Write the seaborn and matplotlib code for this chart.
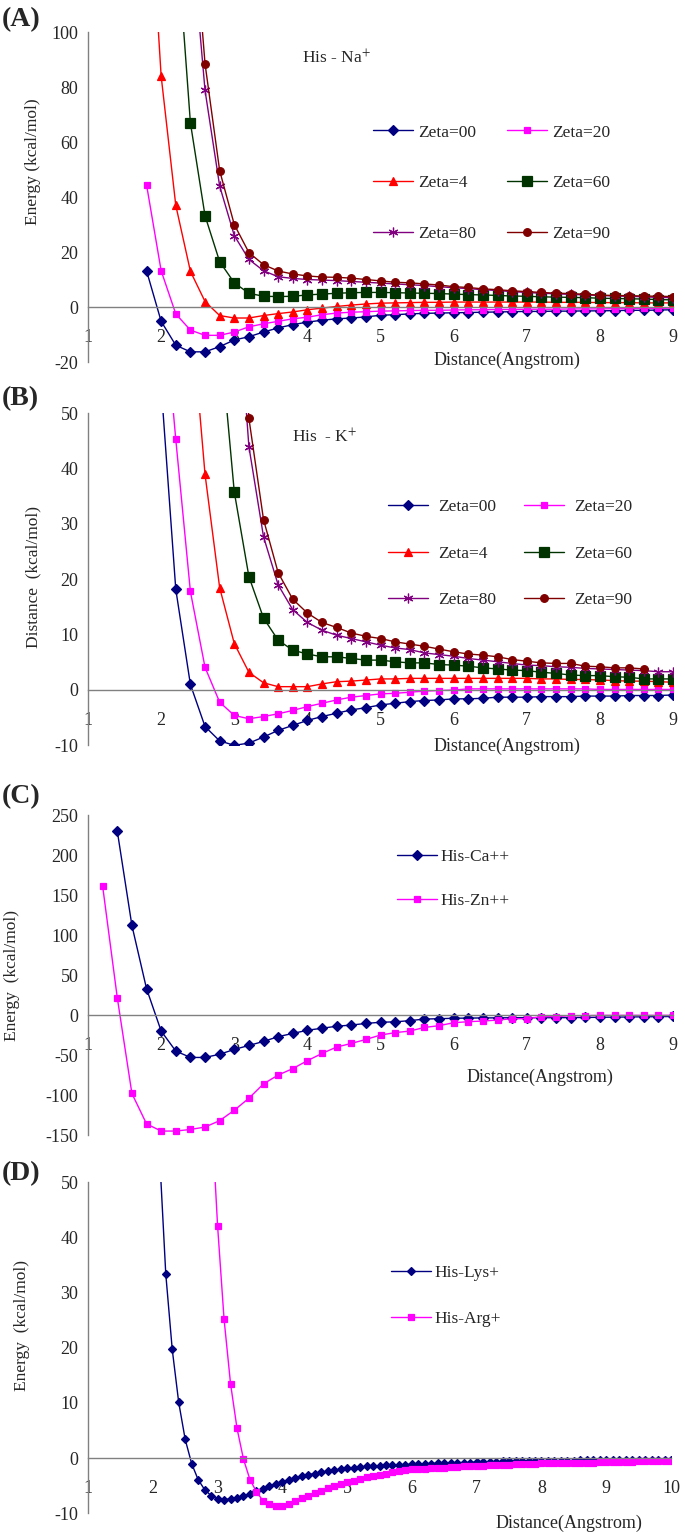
import numpy as np
import pandas as pd
import seaborn as sns

import matplotlib
matplotlib.use('Agg')
import matplotlib.pyplot as plt

sns.set_style("white")
plt.rcParams['font.family'] = ['Liberation Serif', 'DejaVu Serif']
plt.rcParams['mathtext.fontset'] = 'stix'
plt.rcParams['axes.unicode_minus'] = False

#----------DATA----------

# panels A and B share the distance grid (step 0.2)
dist_ab = [1.8, 2.0, 2.2, 2.4, 2.6, 2.8, 3.0, 3.2, 3.4, 3.6, 3.8, 4.0, 4.2, 4.4,
           4.6, 4.8, 5.0, 5.2, 5.4, 5.6, 5.8, 6.0, 6.2, 6.4, 6.6, 6.8, 7.0, 7.2,
           7.4, 7.6, 7.8, 8.0, 8.2, 8.4, 8.6, 8.8, 9.0]

nan = np.nan

# (A) His - Na+
na_z00 = [13.2, -5.2, -13.9, -16.3, -16.3, -14.4, -12.0, -10.8, -9.1, -7.6, -6.4, -5.5, -4.8, -4.3,
          -4.0, -3.6, -3.0, -2.8, -2.5, -2.3, -2.2, -2.1, -2.0, -1.9, -1.8, -1.7, -1.6, -1.6,
          -1.5, -1.5, -1.4, -1.4, -1.3, -1.2, -1.2, -1.1, -1.0]
na_z20 = [44.5, 13.2, -2.5, -8.4, -10.3, -10.3, -9.1, -7.2, -6.1, -5.2, -4.3, -3.7, -2.8, -2.2,
          -1.9, -1.7, -1.5, -1.4, -1.3, -1.2, -1.2, -1.1, -1.0, -1.0, -0.9, -0.9, -0.8, -0.8,
          -0.8, -0.7, -0.7, -0.7, -0.6, -0.6, -0.5, -0.5, -0.4]
na_z4 = [170, 84, 37, 13, 2.0, -3.1, -4.0, -4.0, -3.1, -2.4, -1.8, -1.0, -0.4, 0.2,
         0.7, 1.1, 1.4, 1.5, 1.6, 1.7, 1.7, 1.8, 1.8, 1.8, 1.8, 1.8, 1.8, 1.8,
         1.7, 1.7, 1.7, 1.6, 1.6, 1.6, 1.5, 1.5, 1.5]
na_z60 = [nan, nan, 140, 67, 33.2, 16.5, 8.8, 5.0, 3.9, 3.8, 3.9, 4.4, 4.7, 5.0,
          5.2, 5.3, 5.3, 5.2, 5.1, 5.0, 4.9, 4.7, 4.5, 4.4, 4.2, 4.0, 3.9, 3.7,
          3.6, 3.5, 3.4, 3.2, 3.1, 3.0, 2.9, 2.7, 2.6]
na_z80 = [nan, nan, nan, 140, 78.8, 44.0, 26.0, 17.3, 13.2, 11.0, 10.4, 10.0, 9.8, 9.6,
          9.3, 9.0, 8.7, 8.4, 8.1, 7.8, 7.4, 7.0, 6.7, 6.3, 6.0, 5.6, 5.3, 5.0,
          4.8, 4.6, 4.4, 4.2, 4.0, 3.9, 3.7, 3.5, 3.4]
na_z90 = [nan, nan, nan, 155, 88.5, 49.6, 30.0, 19.8, 15.4, 13.1, 12.0, 11.3, 10.9, 10.8,
          10.5, 10.0, 9.5, 9.0, 8.8, 8.4, 8.0, 7.4, 7.1, 6.6, 6.3, 5.9, 5.6, 5.3,
          5.0, 4.9, 4.6, 4.3, 4.2, 4.1, 4.0, 3.9, 3.8]

# (B) His - K+
k_z00 = [nan, 55, 18.2, 1.0, -6.6, -9.2, -10.0, -9.6, -8.5, -7.3, -6.4, -5.5, -4.8, -4.2,
         -3.6, -3.2, -2.7, -2.4, -2.1, -1.9, -1.8, -1.6, -1.6, -1.5, -1.3, -1.3, -1.3, -1.2,
         -1.2, -1.2, -1.1, -1.1, -1.1, -1.0, -1.0, -1.0, -0.9]
k_z20 = [nan, 75, 45.3, 17.8, 4.1, -2.2, -4.6, -5.2, -4.8, -4.3, -3.7, -3.0, -2.4, -1.8,
         -1.3, -1.0, -0.7, -0.6, -0.4, -0.2, -0.1, 0.0, 0.2, 0.2, 0.2, 0.2, 0.2, 0.2,
         0.2, 0.2, 0.2, 0.1, 0.1, 0.1, 0.1, 0.1, 0.1]
k_z4 = [nan, nan, nan, 70, 39.0, 18.5, 8.4, 3.2, 1.3, 0.6, 0.6, 0.6, 1.1, 1.5,
        1.6, 1.8, 2.0, 2.0, 2.1, 2.1, 2.1, 2.1, 2.1, 2.1, 2.1, 2.1, 2.1, 2.0,
        2.0, 1.9, 1.9, 1.8, 1.7, 1.6, 1.6, 1.5, 1.4]
k_z60 = [nan, nan, nan, nan, nan, 65, 35.8, 20.5, 13.0, 9.0, 7.2, 6.5, 6.0, 6.0,
         5.7, 5.4, 5.4, 5.1, 4.9, 4.9, 4.6, 4.5, 4.3, 4.0, 3.8, 3.6, 3.5, 3.2,
         3.0, 2.7, 2.6, 2.6, 2.4, 2.3, 2.0, 2.0, 2.0]
k_z80 = [nan, nan, nan, nan, nan, nan, 80, 44.0, 27.7, 19.0, 14.5, 12.2, 10.8, 9.9,
         9.3, 8.7, 8.1, 7.6, 7.3, 6.7, 6.4, 6.1, 5.7, 5.4, 5.1, 4.8, 4.5, 4.4,
         4.2, 4.1, 3.9, 3.8, 3.7, 3.6, 3.5, 3.3, 3.3]
k_z90 = [nan, nan, nan, nan, nan, nan, 95, 49.1, 30.8, 21.2, 16.4, 13.9, 12.2, 11.3,
         10.3, 9.7, 9.3, 8.7, 8.3, 7.9, 7.4, 6.9, 6.5, 6.3, 6.0, 5.5, 5.2, 4.9,
         4.8, 4.8, 4.3, 4.2, 4.0, 4.0, 3.8, nan, nan]

# (C) divalent ions
dist_c = [1.2, 1.4, 1.6, 1.8, 2.0, 2.2, 2.4, 2.6, 2.8, 3.0, 3.2, 3.4, 3.6, 3.8,
          4.0, 4.2, 4.4, 4.6, 4.8, 5.0, 5.2, 5.4, 5.6, 5.8, 6.0, 6.2, 6.4, 6.6,
          6.8, 7.0, 7.2, 7.4, 7.6, 7.8, 8.0, 8.2, 8.4, 8.6, 8.8, 9.0]
ca = [nan, 230, 112, 33, -20, -45, -53, -53, -49, -43, -38, -33, -27, -23,
      -19, -16.5, -14, -12.5, -10.5, -9, -8.5, -7, -5, -4.6, -4, -3.8, -3.6, -3.5,
      -3.4, -3.3, -3.3, -3.3, -3.2, -3.0, -2.8, -2.6, -2.4, -2.2, -2.0, -1.8]
zn = [161, 21.7, -98, -136, -145, -145, -143, -140, -132, -119, -104, -86, -75, -67,
      -57, -48, -40, -35.5, -30.5, -25, -22, -20, -15.5, -13.3, -9.6, -8.3, -7.5, -6.3,
      -4.6, -4.6, -2.0, -2.0, -0.8, -0.8, -0.4, -0.4, -0.4, -0.4, -0.4, -0.4]

# (D) cationic residues (step 0.1)
dist_d = [2.1, 2.2, 2.3, 2.4, 2.5, 2.6, 2.7, 2.8, 2.9, 3.0,
          3.1, 3.2, 3.3, 3.4, 3.5, 3.6, 3.7, 3.8, 3.9, 4.0,
          4.1, 4.2, 4.3, 4.4, 4.5, 4.6, 4.7, 4.8, 4.9, 5.0,
          5.1, 5.2, 5.3, 5.4, 5.5, 5.6, 5.7, 5.8, 5.9, 6.0,
          6.1, 6.2, 6.3, 6.4, 6.5, 6.6, 6.7, 6.8, 6.9, 7.0,
          7.1, 7.2, 7.3, 7.4, 7.5, 7.6, 7.7, 7.8, 7.9, 8.0,
          8.1, 8.2, 8.3, 8.4, 8.5, 8.6, 8.7, 8.8, 8.9, 9.0,
          9.1, 9.2, 9.3, 9.4, 9.5, 9.6, 9.7, 9.8, 9.9, 10.0]
lys = [56, 33.4, 19.7, 10.1, 3.4, -1.0, -3.9, -5.7, -6.8, -7.4,
       -7.5, -7.4, -7.2, -6.9, -6.5, -6.0, -5.6, -5.1, -4.7, -4.3,
       -3.9, -3.6, -3.3, -3.0, -2.8, -2.6, -2.4, -2.2, -2.0, -1.8,
       -1.7, -1.6, -1.5, -1.4, -1.4, -1.3, -1.3, -1.2, -1.2, -1.1,
       -1.1, -1.0, -1.0, -0.9, -0.9, -0.9, -0.8, -0.8, -0.8, -0.7,
       -0.7, -0.7, -0.7, -0.6, -0.6, -0.6, -0.6, -0.6, -0.5, -0.5,
       -0.5, -0.5, -0.5, -0.5, -0.5, -0.4, -0.4, -0.4, -0.4, -0.4,
       -0.4, -0.4, -0.4, -0.3, -0.3, -0.3, -0.3, -0.3, -0.3, -0.3]
arg = [nan, nan, nan, nan, nan, nan, nan, nan, 64, 42.1,
       25.2, 13.5, 5.4, -0.2, -3.9, -6.1, -7.7, -8.3, -8.6, -8.6,
       -8.3, -7.7, -7.2, -6.8, -6.3, -5.9, -5.4, -5.0, -4.6, -4.4,
       -4.1, -3.8, -3.5, -3.2, -3.0, -2.8, -2.6, -2.4, -2.2, -2.0,
       -1.9, -1.9, -1.8, -1.7, -1.7, -1.6, -1.6, -1.5, -1.5, -1.4,
       -1.4, -1.3, -1.3, -1.2, -1.2, -1.1, -1.1, -1.0, -1.0, -0.9,
       -0.9, -0.9, -0.9, -0.8, -0.8, -0.8, -0.8, -0.8, -0.7, -0.7,
       -0.7, -0.7, -0.7, -0.7, -0.6, -0.6, -0.6, -0.6, -0.6, -0.6]

#--------------DATAVIS----------------

GREY = '#808080'
NAVY, MAGENTA, RED, GREEN, PURPLE, MAROON = '#000080', '#FF00FF', '#FF0000', '#003300', '#800080', '#800000'
STAR = (6, 2, 0)

fig = plt.figure(figsize=(6.85, 15.32), dpi=100)


def series(ax, x, y, color, marker, ms, label):
    df = pd.DataFrame({'Distance': x, 'Energy': y}).dropna()
    sns.lineplot(data=df, x='Distance', y='Energy', ax=ax, color=color, marker=marker,
                 markersize=ms, markeredgecolor=color, markeredgewidth=0.9, linewidth=1.0,
                 estimator=None, sort=False, label=label, legend=False)
    return ax.lines[-1]


def frame(ax, xmax, ylo, yhi, ystep):
    ax.set_xlim(1, xmax)
    ax.set_ylim(ylo, yhi)
    ax.set_xticks(range(1, xmax + 1))
    ax.set_yticks(range(ylo, yhi + 1, ystep))
    for s in ['top', 'right']:
        ax.spines[s].set_visible(False)
    ax.spines['bottom'].set_position(('data', 0))
    for s in ['left', 'bottom']:
        ax.spines[s].set_color(GREY)
        ax.spines[s].set_linewidth(1.0)
    ax.tick_params(axis='x', direction='in', length=5, pad=16, labelsize=13, color=GREY)
    ax.tick_params(axis='y', direction='in', length=5, pad=7, labelsize=13, color=GREY)


def labels(ax, ylab, ypos, xpos, ylabx=-0.094):
    ax.set_xlabel('Distance(Angstrom)', fontsize=13, va='center')
    ax.xaxis.set_label_coords(*xpos)
    ax.set_ylabel(ylab, fontsize=12.5, va='center')
    ax.yaxis.set_label_coords(ylabx, ypos)


# (A)
axA = fig.add_axes([0.1285, 0.7637, 0.8540, 0.2154])
hA = [series(axA, dist_ab, na_z00, NAVY, 'D', 5, 'Zeta=00'),
      series(axA, dist_ab, na_z20, MAGENTA, 's', 5, 'Zeta=20'),
      series(axA, dist_ab, na_z4, RED, '^', 6, 'Zeta=4'),
      series(axA, dist_ab, na_z60, GREEN, 's', 6.5, 'Zeta=60'),
      series(axA, dist_ab, na_z80, PURPLE, STAR, 7, 'Zeta=80'),
      series(axA, dist_ab, na_z90, MAROON, 'o', 5.5, 'Zeta=90')]
frame(axA, 9, -20, 100, 20)
labels(axA, 'Energy (kcal/mol)', 0.606, (0.716, 0.006))
axA.text(0.366, 0.921, r'His - Na$^{+}$', transform=axA.transAxes, fontsize=12.5, va='center')
order = [0, 2, 4, 1, 3, 5]
axA.legend([hA[i] for i in order], [hA[i].get_label() for i in order], ncol=2,
           loc='upper left', bbox_to_anchor=(0.487, 0.72), frameon=False, fontsize=12.5,
           handlelength=2.3, handletextpad=0.3, columnspacing=1.8, labelspacing=2.0,
           borderpad=0, borderaxespad=0)

# (B)
axB = fig.add_axes([0.1285, 0.5135, 0.8540, 0.2167])
hB = [series(axB, dist_ab, k_z00, NAVY, 'D', 5, 'Zeta=00'),
      series(axB, dist_ab, k_z20, MAGENTA, 's', 5, 'Zeta=20'),
      series(axB, dist_ab, k_z4, RED, '^', 6, 'Zeta=4'),
      series(axB, dist_ab, k_z60, GREEN, 's', 6.5, 'Zeta=60'),
      series(axB, dist_ab, k_z80, PURPLE, STAR, 7, 'Zeta=80'),
      series(axB, dist_ab, k_z90, MAROON, 'o', 5.5, 'Zeta=90')]
frame(axB, 9, -10, 50, 10)
labels(axB, 'Distance  (kcal/mol)', 0.507, (0.716, -0.002))
axB.text(0.349, 0.929, r'His  - K$^{+}$', transform=axB.transAxes, fontsize=12.5, va='center')
axB.legend([hB[i] for i in order], [hB[i].get_label() for i in order], ncol=2,
           loc='upper left', bbox_to_anchor=(0.513, 0.742), frameon=False, fontsize=12.5,
           handlelength=2.3, handletextpad=0.6, columnspacing=1.6, labelspacing=1.75,
           borderpad=0, borderaxespad=0)

# (C)
axC = fig.add_axes([0.1285, 0.2591, 0.8540, 0.2089])
hC = [series(axC, dist_c, ca, NAVY, 'D', 5, 'His-Ca++'),
      series(axC, dist_c, zn, MAGENTA, 's', 5, 'His-Zn++')]
frame(axC, 9, -150, 250, 50)
labels(axC, 'Energy  (kcal/mol)', 0.5, (0.772, 0.181), ylabx=-0.13)
axC.legend(handles=hC, loc='upper left', bbox_to_anchor=(0.528, 0.894), frameon=False,
           fontsize=12.5, handlelength=2.3, handletextpad=0.2, labelspacing=1.6,
           borderpad=0, borderaxespad=0)

# (D)
axD = fig.add_axes([0.1285, 0.0122, 0.8511, 0.2161])
hD = [series(axD, dist_d, lys, NAVY, 'D', 4, 'His-Lys+'),
      series(axD, dist_d, arg, MAGENTA, 's', 4, 'His-Arg+')]
frame(axD, 10, -10, 50, 10)
labels(axD, 'Energy  (kcal/mol)', 0.566, (0.825, -0.029), ylabx=-0.113)
axD.legend(handles=hD, loc='upper left', bbox_to_anchor=(0.52, 0.75), frameon=False,
           fontsize=12.5, handlelength=2.3, handletextpad=0.2, labelspacing=1.7,
           borderpad=0, borderaxespad=0)

for txt, yy in [('(A)', 0.987), ('(B)', 0.740), ('(C)', 0.480), ('(D)', 0.234)]:
    fig.text(0.003, yy, txt, fontsize=20, fontweight='bold', va='center', ha='left')

fig.savefig('out.png', dpi=100)
